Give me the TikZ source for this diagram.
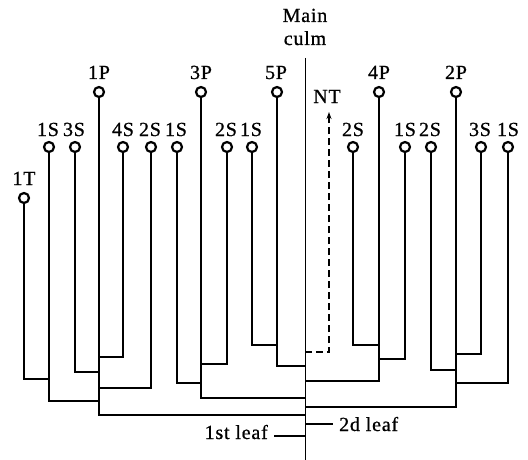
\documentclass[tikz,border=0pt]{standalone}
\usepackage{fontspec}
\setmainfont{Liberation Serif}
\newfontfamily\lblfont[LetterSpace=4, FakeBold=0.8]{Liberation Serif}
\usetikzlibrary{arrows.meta}
\begin{document}
\begin{tikzpicture}[x=1pt,y=-1pt,
  leaf/.style={circle, draw, line width=2.2pt, inner sep=0pt, minimum size=10pt, fill=white},
  br/.style={line width=2.4pt, line join=miter},
  culm/.style={line width=1pt},
  nt/.style={line width=1.4pt, dash pattern=on 7pt off 4pt},
  lbl/.style={anchor=base, inner sep=0pt, font=\lblfont\fontsize{20}{22}\selectfont},
  tick/.style={line width=1.6pt}]
\useasboundingbox (0,0) rectangle (528,460);

% main culm
\coordinate (mTop) at (305,58);
\coordinate (mBot) at (305,460);
\draw[culm] (mTop) -- (mBot);
\node[lbl] (tMain) at (305,22) {Main};
\node[lbl] (tCulm) at (305,45) {culm};

% leaves
\node[leaf] (c1T)  at (24,198) {};
\node[leaf] (cA1S) at (49,147) {};
\node[leaf] (cA3S) at (75,147) {};
\node[leaf] (c1P)  at (99,92) {};
\node[leaf] (cA4S) at (123,147) {};
\node[leaf] (cA2S) at (151,147) {};
\node[leaf] (cB1S) at (177,147) {};
\node[leaf] (c3P)  at (201,92) {};
\node[leaf] (cB2S) at (227,147) {};
\node[leaf] (cC1S) at (252,147) {};
\node[leaf] (c5P)  at (277,92) {};
\node[leaf] (cD2S) at (353,147) {};
\node[leaf] (c4P)  at (379,92) {};
\node[leaf] (cD1S) at (405,147) {};
\node[leaf] (cE2S) at (431,147) {};
\node[leaf] (c2P)  at (456,92) {};
\node[leaf] (cE3S) at (481,147) {};
\node[leaf] (cE1S) at (508,147) {};

% labels
\node[lbl] (l1T)  at (24,185) {1T};
\node[lbl] (lA1S) at (48,136) {1S};
\node[lbl] (lA3S) at (74,136) {3S};
\node[lbl] (l1P)  at (99,79) {1P};
\node[lbl] (lA4S) at (123,136) {4S};
\node[lbl] (lA2S) at (150,136) {2S};
\node[lbl] (lB1S) at (176,136) {1S};
\node[lbl] (l3P)  at (201,79) {3P};
\node[lbl] (lB2S) at (226,136) {2S};
\node[lbl] (lC1S) at (251,136) {1S};
\node[lbl] (l5P)  at (276,79) {5P};
\node[lbl] (lNT)  at (327,103) {NT};
\node[lbl] (lD2S) at (353,136) {2S};
\node[lbl] (l4P)  at (379,79) {4P};
\node[lbl] (lD1S) at (405,136) {1S};
\node[lbl] (lE2S) at (430,136) {2S};
\node[lbl] (l2P)  at (456,79) {2P};
\node[lbl] (lE3S) at (480,136) {3S};
\node[lbl] (lE1S) at (508,136) {1S};

% junction points
\coordinate (j1T)  at (49,379);
\coordinate (jA1S) at (99,401);
\coordinate (jA3S) at (99,372);
\coordinate (jA4S) at (99,357);
\coordinate (jA2S) at (99,388);
\coordinate (j1P)  at (305,415);
\coordinate (jB1S) at (201,383);
\coordinate (jB2S) at (201,364);
\coordinate (j3P)  at (305,398);
\coordinate (jC1S) at (277,345);
\coordinate (j5P)  at (305,366);
\coordinate (jNT)  at (305,352);
\coordinate (tNT)  at (329,112);
\coordinate (jD2S) at (379,345);
\coordinate (jD1S) at (379,359);
\coordinate (j4P)  at (305,381);
\coordinate (jE2S) at (456,370);
\coordinate (jE3S) at (456,354);
\coordinate (jE1S) at (456,383);
\coordinate (j2P)  at (305,407);

% branches
\begin{scope}[br]
\draw (c1T.south)  |- (j1T);
\draw (cA1S.south) |- (jA1S);
\draw (cA3S.south) |- (jA3S);
\draw (cA4S.south) |- (jA4S);
\draw (cA2S.south) |- (jA2S);
\draw (c1P.south)  |- (j1P);
\draw (cB1S.south) |- (jB1S);
\draw (cB2S.south) |- (jB2S);
\draw (c3P.south)  |- (j3P);
\draw (cC1S.south) |- (jC1S);
\draw (c5P.south)  |- (j5P);
\draw (cD2S.south) |- (jD2S);
\draw (cD1S.south) |- (jD1S);
\draw (c4P.south)  |- (j4P);
\draw (cE2S.south) |- (jE2S);
\draw (cE3S.south) |- (jE3S);
\draw (cE1S.south) |- (jE1S);
\draw (c2P.south)  |- (j2P);
\end{scope}

% new tiller (dashed)
\draw[nt, -{Stealth[length=7pt,width=5pt]}] (jNT) -| (tNT);

% leaf markers
\coordinate (k1a) at (274,436);
\coordinate (k1b) at (305,436);
\draw[tick] (k1a) -- (k1b);
\node[lbl, anchor=base east] (t1st) at (268,439) {1st leaf};
\coordinate (k2a) at (305,424);
\coordinate (k2b) at (333,424);
\draw[tick] (k2a) -- (k2b);
\node[lbl, anchor=base west] (t2d) at (339,431) {2d leaf};
\end{tikzpicture}
\end{document}
